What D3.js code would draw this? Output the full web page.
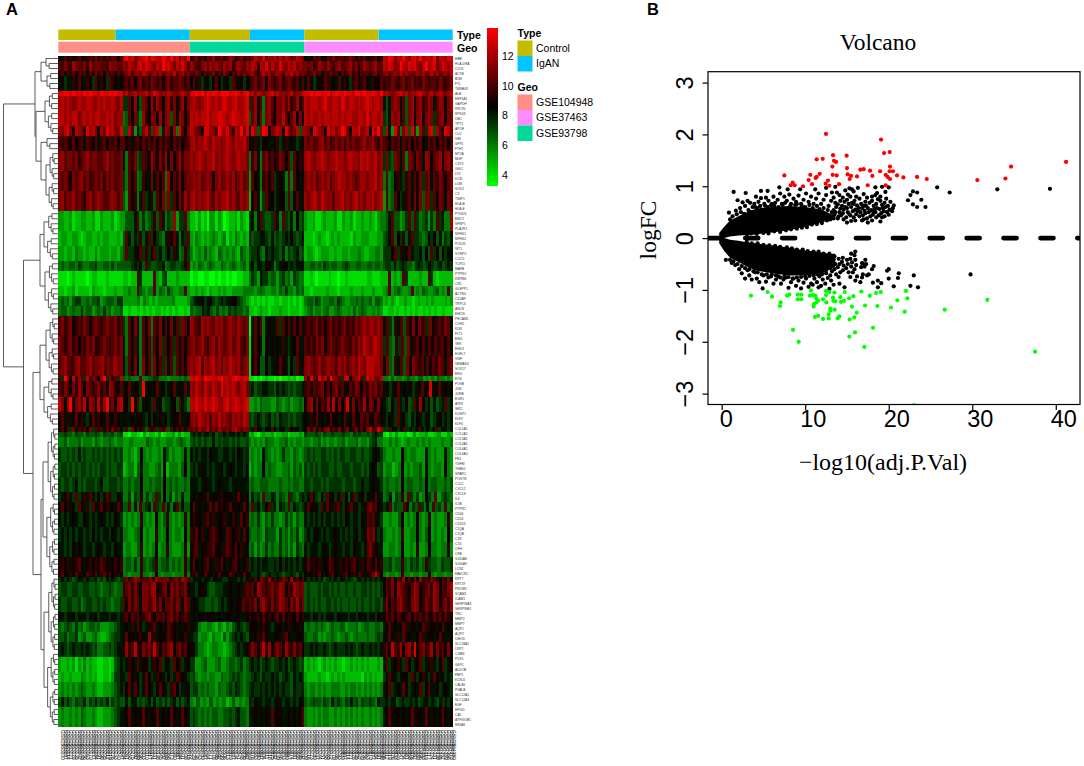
<!DOCTYPE html>
<html>
<head>
<meta charset="utf-8">
<script src="https://cdn.jsdelivr.net/npm/d3@7/dist/d3.min.js"></script>
<style>
  html, body { margin: 0; padding: 0; background: #fff; }
  svg { display: block; }
</style>
</head>
<body>
<div id="root"></div>
<script>
const width = 1084
const height = 766

// heatmap: hex digit per cell, 0 = brightest green, f = brightest red
// segments in a string follow sample groups, bandRows[i] = how many rows that string covers
const segmentCols = [23, 24, 21, 20, 28, 25]
const bandRows = [1,2,1,3,1,3,3,2,3,4,4,4, 4,3,3,2,3,2,2,2, 4,4,4,1,3,3,3, 1,1,2,3,3,3,2,2,3,3,3,3,1, 1,3,3,2,2,2,3,3,2,3,2,4]
const bandCells = [
  '87a7987a879a9b8a9a9aa8a dfdebcdefcfeddfecfdebdcf 8ab9a8bac9ab9acb8ab9a 9bdcbeaccdbdbdcabdcb 878a9a78a9b9aa9aba8a9a798a79 dcfebdcfdbeedfcdecfbddcee',
  'a9ba9cbaab9cabbaa9cbbaa cbdcbdecedcbdcfdecbdceca cba9bcacbcbacbc9bcbac bdc9dcebdcbecbdcdbcb bab9acbaca9bcaabcab9acbabcaa dcedbcfdcedecbdfcdebcedcd',
  '9a7a9a8a9a7a9b9a8a9a8a9 abcabcbdcabcbcabcbdabcab a9ba8a9ab8a9ba8a9baba bca9bdbcabcbacbdbcab a9ab9a7a9b9a7a9ab9a8a9a9ab9a bcabcbdbcbabcbcabdbcabcbd',
  '7867797a87986a7986a9878 9a9a8ab9a9ba9a8ab9aaba9a 8a7967868a86786a97868 7ab9ab8ba9ab9aba9a7a 7a86788a9787a79869a79a87988a 9a9ba9ab9ab9a9ba9aa9ba9ab',
  'eeffefeedfefeedfeefefee bdbcdbccdbcedbcbdcbbcdcb eefefdfefeefffeefedef cdbdcbcdecdbcbcdbbcd eefeffeefdefeefeedffefeefedf cdcbcdecdbccdecbcdbcdcbcd',
  'cdcdcbcdccddcbdcdccdcbd 66a8c75ba8c9ca8bc9b7ac8b cdcbcdedcdcdedcdeccde 6ac8a4bca8bbcac9ac8a dcdddcdeccddcedcddcdcdedcddc 757bcb8a5bc8bc9acb7acb8bc',
  'ddcdcddbcdcdcddccdcdbcc 45a8b64c98bb8c8bc5b7cb8a dcdcddecddeedcdeddcde 5ac7b4bc98bbda8ac8b8 dcdccdcddcddcdcddccddcecddcd 657cbc8a5bc7bc8bcb6abc8bb',
  'cbdeb8dcb9ecdb8cbecdbbe 55da375bda5cd49cb7c4ea8b dcba8eecbafdceb9dcfbe 7ec5bfe8bcdc8ecabd5c cb8edcb8ecdbcfeb8dcebcd8ecfb 5d73ea4bd5ea3ca6de5ca8edb',
  'a9a98a89a7a98a79a8a9a8a a8979a8a9a8a8a9a98a9a89a cdbccdcbdccbcdcbdccdb 87976887789679787678 babaabcab9abab9babaabcabca9b a98a9a7a9a8a9a87a9a8a9a8a',
  'bcabbab9abcabbaabcabaab 74a9b56a98ca8b9c7b8ac9bb cbcdcbccdbcbcdcbcdccb 49b74ab9a89ba8a5a898 cdcbccdcbccdccbcdccbdcdccdbc 6b65ba7a4ba8ba7cb8abc8bca',
  'baba8babcab9abab9babaab 64a8a45987b7a8a4c8a9b8ab bcbcabcb8bcabcbc9bcab 3a8749a8a67874a4a878 bcbcabcbcabcdccbcbabccbccdbc 4a4589769a7a8b6ab7a9ba8ab',
  'bcabbcaba9bcabcbaabcbab 53a8947a6795a8b5b6a8b9ca cdbcbcdbacbccdbcbacbc 28a736a8867885a58a78 cbcdcbdcbcaccdbcbcdbcbccdbcd 3a45a8679a7b8b5bb6a8ba7ba',
  '33223122332231132223123 35557a4645695a7465c366a4 221312033132012231321 6747a6556a74a6574856 32231123222311322312232232134 457a55346a5a6456364a6744c',
  '23322332123322323322232 5a7576957a68654798a7476a 324323234323413243232 75667765756567686567 22212322123232222132233322233 567a586957a66545868574657',
  '33233243323224233323324 5a6678a6968a675686974596 423435343254343432543 56675476766574656756 23321233322322332333432233443 6668a6978a7667585a6858677',
  '45445546544556445546455 55567675a65566745665567a 343543454335434543453 67577688746778676778 44554546545544565445544554554 56657567655467656765675676',
  '11101211110122111211111 22122a62222a325622232222 011001100101101001122 46537664553564536544 11210111121101121111111221112 22a2323a62222322a62122222',
  '22122312222132221222322 33433a54344a3543643344a3 223232132232322333344 44345433443546443545 22122222322212222322232223222 34a3454334a343543345343a3',
  '45453566445455634555466 33333424323233333422223 567786786567677886543 21212121122122121212 45546534455465433445454453554 23232122322123223232222323',
  '45534544645534546453445 11211212121221212121121 54557675464546565545 22123221222322122212 34534434533454334353454334343 11221211212121121212112111',
  'ab9ab89a9ba8aba9abaab9a 64a7b94a8b4a9b7a8b7a6ba8 cba9cbcbacbcabcbacbab 07a8a47877a6a8a7a8a7 9a9ab9a8ab9a9ab9a9babcbccbcb 7a6497a5a8b8b9a6b89a9ba7',
  'ba9ab9a8a9bab89aba9abab 74a7a74a8a5a8b6a8a6a7a8a bcabca9bcacbabcabca9b 17a87487878797678a77 a9a9bab8aba9abaa9bacbdcbcdcb 6a5496a5b79a8a7a8a9a8a7',
  'abca9bcaabcabbcabacbb 75a7b84b8a5b8a6b7a5a7a8b cbcdacbcdbcacbdcbcabc 18a85586778a87586a78 bcbabcabcbbacbcabcbdcbdddccb 7b5497a5b8ba9a7a8a9ba7ab',
  'a6fb7d9ca6d9ba8cf6b9a6d 545444a44556644434445454 ededcfeeddefddcefedee 11010121101011212011 c9eb7ecd9fcba6de7bcda6ecdbad 44353443454435534343544343',
  'a9ba8b9ca8ba9ab9a8cb98a 78a7886f7878a78678a787a7 cbdcbdcbdcbecdcdcbcdb 67566776657676565667 9a8a9ab8a8ab9a78a9ba8a9bab9a 78678a7878678a78e78a7878',
  'db7cf8bc9d8cb7d9cf8b8cd 786f7a57876a78566785a764 dcedcecdedcbdecdedcde 33435444335434534454 8bc7b8a9c8d8b8ae7b8a9c8ba8b8 76586a76856a7c86857567a67',
  '8a7978a89768a7987a78987 87787887686878786788a778 bcbdcbcacbdbcbacbcbdc 65676567565766565667 8798a7878a8878a78a88a9a88a98 76876a7865768767856786767',
  '7a8a6b7a9a8b6a9a7a8b9a7 6a5b8a7a5a8a6a9b5a7a8a7a abacabdabacbabacdbabb 67a87687a86876a87867 8b9b7a9bc8a9b8ab79b7a8bd9aec 66a7867a6767a76867a67767',
  '55655465546556546556456 11022103122130122313122 676767767566767767676 23102322312233122232 65556546556555655465655656766 10213112013122311231132',
  '44534445344435434454344 33433335434334434543 565656557565665656556 43434354433445343443 44344534344344534445344356744 33434323433434343334334',
  '65565657565565656565656 33432484343343753433474 767677687766776768767 34343754343464435434 56565566565656655665565567876 43343384344333743433743',
  '56656565665656566565566 23442574433453824443584 676787676778678767768 24344845443344535453 65656566655655666566656578756 34423483434453743443843',
  '65665675656665675566656 44545584454554845454454 777678776787776787777 45445554444544545544 66566656566666566656676678776 45445484554454845544545',
  '678a76a6797a76867a96687 44636594645a64846354744 787887a7887988878a878 47564a55764654a65467 67a76586a7867a6857a6786878a77 45736594a64634864a35654',
  '7a89786a8796a87a89787a8 55a474a5674a65a5747a5755 8a78787a8a8987a8787a8 5a67568a674765a57656 7a8786a7a879a7689a78678ab9a87 67a4655a8465a6474a564a45',
  '76767876687676787676876 34343494343843594343494 898879a89788978987a89 45464354644346453544 76767686776767687677687a9a776 33433583434843493433494',
  '67686767767686767768767 44334583433943484344384 98a89789a9887a98897a8 54454365553645354634 67678767677876767678678bab767 43343493344843583434384',
  '77676878767767876776877 34433593434834494333493 89a78899a8879a98a8978 45353464544645353654 76777678767877677687767ab9877 33443483343933484434493',
  '8989789a8789898a9878989 45546495456945564545495 8a8789a8798a8789a8789 67676776676867676767 8a8989788a98798989a8798a98a89 55645595465645965546556',
  '8a8798a878a98a79a8a8798 44344494434843444344494 98a78a8878a878a9878a8 76676567667656676576 87898a8789a8789a8798a8789bda8 43443494434434494344344',
  '67676567767667565767656 ab9acb9aab9cbabb9ab9cba 67776776877667776767 97a8ba9c8a79ba8c9a8a 76767675676767767656767676767 8a9b8a9c8a8b8c9a8ba98a9b8',
  '56655665566556545565455 9ab9b98bbacc89ab8bab9ab8 77688765566677877879a 9a8cba9ab9acb8a9cbab 56555656656565565565566565656 8a9b8cba98acb89ab9cb8a9bc',
  '65566556456655656554556 a8b9ba7bbaac9b8aab9ba7ba 78766556567678788a9 a9b8bca9b9acba8bac9b 56565655665656556556565565665 9b8a9bca98bcb89ba9cb8ab9c',
  '77677867776778677767767 9a8a9a89ab98a9a8ab9a89a9 787887888787788788778 98898a8989a8a8988a89 77687676777687776776877677687 8a9a8a989a8a9a8a98a9a8a98',
  '54565464534554533344567 78797a86789a7878a9878789 777433443243243567656 78878987678878978878 45445454345445534445345544554 78a7878a978878a978878a787',
  '55645563453345322345667 7a8878987c797887a9878897 766344324332535676765 87898a8778879a877887 54455343445434454345444544565 87a8797a88778a978878a8778',
  '67656766767656445565677 8c9ad98bab9da8a9bc8ab9a8 876443234433234567678 9ba8ad9c8aba8ca9b9a8 66767667656766676765676676767 9a8da9c8bc9e8ab9ac8b9a8b8',
  '32232313242322112212567 67987a7886798a6876a89678 663345333453345545645 67675676566767567656 23232123232322122323232322232 7a678976a8678a6789768a678',
  '23223222432323112213667 76a87867a8679876867a9876 564344344335445656545 56765766767567657676 32222322123232322222213232322 67a8767886a7689767a878676',
  '34343434543343223334567 68a7a867a8768a8769a86778 566454544354456576545 67667676767676657667 43443434334443343443434343434 78a6787a86787a68a77867876',
  '57575465574657565746565 575775656757565756757567 435343534342353434 76877677678767767687 54565546547565465756465565476 67677567667675677676576767',
  '34334343543343223334567 78a7878a8788a7878a878a87 565454545544556567554 77878787a7887787878a 43343434433434343434343343434 78a7887878a7887a87878a878'
]

// annotation rows, in sample columns
const typeBlocks = [['Control', 20.5], ['IgAN', 47], ['Control', 68.5], ['IgAN', 88], ['Control', 114.5], ['IgAN', 141]]
const geoBlocks = [['GSE104948', 47], ['GSE93798', 88], ['GSE37463', 141]]
const typeColors = { Control: '#c3bc00', IgAN: '#00c5ff' }
const geoColors = { GSE104948: '#ff8f85', GSE37463: '#ff8cff', GSE93798: '#00d99a' }
const colorTicks = [4, 6, 8, 10, 12]

// row labels are too small to read in the picture, these are best guesses
const rowLabels = ['HBB','HLA-DRA','CD74','ACTB','B2M','FTL','TMSB4X','ALB','EEF1A1','GAPDH','RPLP0','RPS18','UBC','TPT1','APOE','CLU','VIM','SPP1','FTH1','MT2A','MGP','CST3','IGKC','LYZ','DCN','LUM','SOD2','C3','TIMP1','HLA-B','HLA-E','PTGDS','ENO2','SFRP1','PLA2R1','NPHS1','NPHS2','PODXL','WT1','SYNPO','CLIC5','TCF21','MAFB','PTPRO','KIRREL','CR1','GLEPP1','ACTN4','CD2AP','TRPC6','ANLN','EMCN','PECAM1','CDH5','KDR','FLT1','ENG','TEK','EHD3','EGFL7','VWF','SEMA3G','SOX17','ERG','FOS','FOSB','JUN','JUNB','EGR1','ATF3','IER2','DUSP1','KLF2','KLF4','COL1A1','COL1A2','COL3A1','COL4A1','COL4A2','COL6A3','FN1','TGFBI','THBS1','SPARC','POSTN','CCL2','CXCL2','CXCL8','IL6','IL1B','PTPRC','CD44','CD14','CD163','C1QA','C1QB','C1R','C1S','CFH','CFB','S100A8','S100A9','LCN2','HAVCR1','KRT7','KRT19','PROM1','VCAM1','ICAM1','SERPINA3','SERPINE1','TNC','MMP2','MMP7','AQP1','AQP2','UMOD','SLC34A1','LRP2','CUBN','PCK1','G6PC','ALDOB','FBP1','KCNJ1','CALB1','PVALB','SLC12A1','SLC12A3','EGF','HPGD','CA2','ATP6V1B1','NR4A1']
const sampleIds = d3.range(141).map(d => 'GSM' + (2863100 + d * 7)) // column labels, equally unreadable

// volcano
const xTicks = [0, 10, 20, 30, 40]
const yTicks = [-3, -2, -1, 0, 1, 2, 3]
const yTickText = ['\u22123', '\u22122', '\u22121', '0', '1', '2', '3']
const redPoints = [[12.49,2.01],[19.08,1.9],[20.11,1.66],[19.44,1.64],[14.96,1.59],[13.33,1.6],[11.37,1.52],[12.09,1.53],[13.45,1.49],[13.69,1.47],[13.25,1.38],[20.15,1.38],[15,1.35],[16.6,1.32],[17,1.33],[17.76,1.3],[18.96,1.29],[20.11,1.29],[20.51,1.29],[41.23,1.47],[34.65,1.38],[7.5,1.21],[10.61,1.22],[11.73,1.24],[11.37,1.18],[11.25,1.16],[13.29,1.22],[13.77,1.21],[15.08,1.23],[15.48,1.2],[15.32,1.14],[16.2,1.19],[18.04,1.2],[19.64,1.22],[19.87,1.18],[20.15,1.14],[20.99,1.21],[21.75,1.17],[23.39,1.18],[24.55,1.14],[30.61,1.12],[33.97,1.15],[10.41,1.12],[12.73,1.11],[12.45,1.05],[10.81,1.04],[14.05,1.04],[12.89,1.01],[8.5,1.07],[8.26,1.02],[8.74,1.02],[9.74,1],[17.48,1.02],[19.64,1.02]]
const greenPoints = [[3.51,-1.11],[5.5,-1.04],[6.02,-1.13],[6.98,-1.31],[7.06,-1.24],[7.82,-1.11],[8.1,-1.09],[8.54,-1.77],[9.22,-2],[9.1,-1.09],[9.54,-1.09],[9.1,-1.18],[9.54,-1.18],[10.69,-1.01],[10.57,-1.11],[10.93,-1.1],[11.21,-1.11],[11.33,-1.16],[11.53,-1.21],[11.33,-1.24],[11.05,-1.27],[11.01,-1.32],[12.13,-1.18],[12.49,-1.02],[12.49,-1.1],[12.53,-1.24],[12.89,-1.04],[13.49,-1.05],[13.33,-1.15],[13.61,-1.22],[13.37,-1.21],[14.21,-1.14],[14.29,-1.23],[14.65,-1.21],[14.73,-1.04],[15.24,-1.16],[15.76,-1.12],[15.6,-1.32],[16.16,-1.44],[16.72,-1.03],[17.16,-1.3],[17.72,-1.11],[18.48,-1.06],[19.04,-1.04],[18.64,-1.31],[20.27,-1.34],[21.03,-1.2],[21.91,-1.42],[22.23,-1.16],[22.07,-1.02],[11.17,-1.52],[11.57,-1.5],[12.13,-1.56],[12.81,-1.47],[12.81,-1.55],[13.01,-1.36],[13.01,-1.4],[13.53,-1.38],[13.89,-1.55],[14.09,-1.51],[15.32,-1.57],[15.88,-1.53],[18.12,-1.73],[15.28,-1.9],[15.96,-1.82],[17.08,-2.1],[26.7,-1.38],[31.81,-1.19],[37.52,-2.19],[23.03,-3.22]]
const blackPoints = [
  [1.43,.89],[2.87,.87],[1.9,.73],[2.5,.69],[.87,.49],[1.7,.53],[3.4,.68],[4.1,.8],[4.7,.91],[5.5,.91],[6.9,.98],[7.9,.94],[9.4,.94],[11.2,.94],[12.5,.97],[13.6,.99],[15.3,.96],[16.3,.97],[18.4,.98],[19.2,.99],[20,.98],[17,.85],[19.6,.89],[18,.8],[19,.8],[18.6,.87],
  [22.9,.9],[23.4,.88],[22.6,.83],[22.3,.73],[23.9,.74],[22.9,.65],[23.4,.6],[24.4,.6],[25.8,.98],[27.3,.88],[33,.94],[39.3,.95],
  [2.2,.58],[2.8,.62],[3.1,.72],[3.7,.6],[3.9,.66],[4.4,.7],[4.7,.77],[4.6,.62],[5.1,.66],[5.3,.78],[5.6,.72],[5.9,.63],[6.2,.8],[6.4,.68],[6.7,.74],[7,.86],[7.2,.66],[7.5,.8],[7.8,.72],[8.1,.84],[8.3,.66],[8.6,.76],[8.9,.7],[9.2,.82],[9.5,.66],[9.8,.74],[10.1,.86],[10.4,.7],[10.7,.8],[11,.66],[11.3,.76],[11.6,.86],[11.9,.66],[12.2,.74],[12.5,.83],[12.8,.62],[13.1,.72],[13.2,.88],
  [1,.36],[1.3,.42],[1.8,.46],[2.3,.5],[2.7,.47],[3.2,.54],[3.5,.5],[4,.6],[4.3,.58],[4.8,.55],[5.2,.62],[5.5,.6],[6,.66],[6.3,.62],[6.8,.6],[7.3,.64],[7.6,.68],[8.2,.62],[8.8,.64],[9,.66],[9.6,.62],[10,.6],[10.5,.64],[10.9,.58],[11.4,.62],[11.7,.56],[12.2,.58],[12.7,.54],[13.2,.5],[13.3,.42],
  [3,.07],[3.5,.09],[4.2,.08],[5,.1],[5.6,.09],[6.3,.13],[7,.12],[7.7,.15],[8.3,.17],[9,.18],[9.6,.2],[10.2,.21],[10.8,.26],[11.4,.27],[12,.29],[12.6,.34],[13,.36],[13.4,.38],
  [13.5,.45],[13.4,.54],[13.7,.6],[13.6,.68],[13.4,.78],[13.8,.88],[14,.42],[14.1,.5],[14.2,.57],[13.9,.65],[14.2,.72],[14.1,.83],[14.5,.48],[14.6,.55],[14.4,.62],[14.7,.7],[14.5,.78],[14.8,.92],[15,.3],[14.9,.4],[15.1,.5],[15,.58],[15.2,.66],[15,.74],[15.1,.84],[15.6,.94],[15.5,.33],[15.4,.44],[15.7,.52],[15.5,.6],[15.6,.68],[15.4,.8],[15.8,.9],[16,.34],[16.1,.46],[16,.55],[16.2,.63],[15.9,.72],[16.1,.8],[16.5,.42],[16.6,.5],[16.4,.58],[16.7,.66],[16.5,.76],[17,.36],[16.9,.44],[17.1,.53],[17,.62],[17.2,.7],[17.5,.3],[17.4,.38],[17.6,.5],[17.5,.58],[17.7,.68],[17.4,.78],[18,.34],[18.1,.45],[17.9,.54],[18.2,.62],[18,.72],[18.5,.4],[18.4,.5],[18.6,.58],[18.5,.66],[18.7,.75],[18.4,.83],[19,.32],[19.1,.48],[18.9,.56],[19.2,.64],[19,.72],[19.5,.42],[19.4,.52],[19.6,.6],[19.5,.68],[19.7,.76],[20,.45],[20.1,.55],[19.9,.62],[20.2,.7],[20.5,.58],[20.6,.63],[20.4,.52],
  [13.9,.38],[14.3,.44],[14.6,.36],[15.3,.46],[15.8,.4],[16.3,.52],[16.8,.34],[17.2,.48],[17.8,.42],[18.3,.56],[18.8,.44],[19.3,.58],[13.6,.5],[14.8,.6],[15.8,.66],[16.8,.58],[17.3,.62],[18.2,.5],[19.2,.4],[19.8,.5],
  [.5,-.42],[2.8,-.78],[4.9,-.97],[1.2,-.48],[1.6,-.52],[2.1,-.6],[2.4,-.68],[3.1,-.62],[3.3,-.72],[3.6,-.8],[4,-.66],[4.2,-.78],[4.5,-.85],[5,-.72],[5.3,-.84],[5.6,-.76],[6,-.7],[6.2,-.88],[6.5,-.8],[6.8,-.74],[7.1,-.88],[7.4,-.8],[7.7,-.76],[8,-.96],[8.3,-.85],[8.6,-.78],[8.9,-.92],[9.2,-.82],[9.5,-.97],[9.8,-.86],[10.1,-.78],[10.4,-.94],[10.7,-.88],
  [1,-.42],[1.4,-.45],[1.9,-.5],[2.4,-.54],[2.8,-.58],[3.3,-.6],[3.8,-.64],[4.3,-.66],[4.8,-.7],[5.4,-.7],[5.9,-.74],[6.5,-.72],[7,-.76],[7.5,-.74],[8,-.75],[8.5,-.78],[9,-.76],[9.5,-.75],[10,-.74],[10.5,-.73],[11,-.72],[11.5,-.7],[12,-.68],[12.5,-.62],[13,-.58],
  [3,-.07],[3.6,-.1],[4.3,-.1],[5,-.13],[5.7,-.14],[6.4,-.15],[7,-.17],[7.8,-.18],[8.4,-.2],[9,-.22],[9.7,-.22],[10.3,-.25],[11,-.26],[11.6,-.26],[12.2,-.3],[12.9,-.3],[13.4,-.34],
  [11,-.3],[11.1,-.4],[10.9,-.5],[11.2,-.6],[11,-.7],[11.1,-.78],[10.9,-.9],[11.5,-.33],[11.4,-.42],[11.6,-.55],[11.5,-.66],[11.7,-.74],[11.4,-.85],[11.6,-.95],[12,-.35],[12.1,-.45],[11.9,-.52],[12.2,-.62],[12,-.7],[12.1,-.8],[11.9,-.92],[12.5,-.38],[12.4,-.48],[12.6,-.58],[12.5,-.68],[12.7,-.77],[12.4,-.88],[13,-.36],[13.1,-.44],[12.9,-.54],[13.2,-.64],[13,-.72],[13.1,-.82],[12.9,-.98],[13.5,-.35],[13.4,-.42],[13.6,-.5],[13.5,-.6],[13.7,-.7],[13.4,-.9],[14,-.4],[14.1,-.5],[13.9,-.56],[14.2,-.66],[14,-.75],[14.1,-.88],[14.5,-.38],[14.4,-.46],[14.6,-.53],[14.5,-.62],[14.7,-.95],[15,-.42],[15.1,-.5],[14.9,-.58],[15.2,-.66],[15.5,-.3],[15.4,-.4],[15.6,-.47],[15.5,-.55],[15.7,-.66],[15.4,-.75],[16,-.26],[15.9,-.33],[16,-.42],[16.1,-.52],[15.9,-.6],[16.2,-.74],[16,-.82],[16.8,-.48],[16.7,-.56],[16.9,-.7],[16.8,-.76],[16.6,-.85],[17.2,-.42],[16.9,-.49],[17.3,-.5],[17.1,-.55],[17.4,-.72],[17.6,-.7],[18.2,-.54],[18,-.6],[18.1,-.86],[18.7,-.82],[18.7,-.95],[19.1,-.87],[19.8,-.63],[20,-.6],[20,-.78],[20.6,-.93],[21.2,-.68],[21.1,-.77],[22.6,-.92],[23,-.72],[23.5,-.95],[29.8,-.7]
]
// dense part of the cloud, read as a band per side
const coreX = [-.3, .3, 1, 2, 3, 4, 6, 8, 10, 12, 13.6]
const upperTop = [.1, .22, .34, .42, .5, .56, .6, .62, .6, .55, .42]
const upperBottom = [0, 0, .03, .05, .06, .07, .11, .15, .22, .3, .4]
const lowerTop = [0, 0, -.03, -.05, -.08, -.1, -.14, -.18, -.24, -.28, -.32]
const lowerBottom = [-.1, -.25, -.38, -.46, -.55, -.62, -.68, -.72, -.72, -.68, -.55]

const svg = d3.select('#root').append('svg')
  .attr('width', width)
  .attr('height', height)
  .style('font-family', "'Liberation Sans', Arial, sans-serif")

// panel A
const rowY = d3.scaleBand(d3.range(rowLabels.length), [56, 727])
const colX = d3.scaleLinear([0, 141], [58.3, 452.7])
const heatKeys = '0123456789abcdef'
const keyValue = d3.scaleLinear([0, 15], [3.25, 13.9])
const heatColor = d3.scaleLinear([3.25, 8.57, 13.9], ['#00ff00', '#000000', '#ff0000'])

const segmentStarts = d3.cumsum([0, ...segmentCols])
const bandStarts = d3.cumsum([0, ...bandRows])
const heat = svg.append('g').attr('shape-rendering', 'crispEdges')
bandCells.forEach((line, b) => {
  line.split(' ').forEach((cells, s) => {
    const x = d3.scaleBand(d3.range(cells.length), [colX(segmentStarts[s]), colX(segmentStarts[s + 1])])
    heat.append('g').selectAll('rect').data(Array.from(cells)).join('rect')
      .attr('x', (d, i) => x(i))
      .attr('y', rowY(bandStarts[b]))
      .attr('width', x.bandwidth() + .3)
      .attr('height', rowY.bandwidth() * bandRows[b] + .3)
      .attr('fill', d => heatColor(keyValue(heatKeys.indexOf(d))))
  })
})

function annotation (blocks, colors, y0, y1) {
  let from = 0
  blocks.forEach(([name, to]) => {
    svg.append('rect')
      .attr('x', colX(from)).attr('y', y0)
      .attr('width', colX(to) - colX(from)).attr('height', y1 - y0)
      .attr('fill', colors[name])
    from = to
  })
}
annotation(typeBlocks, typeColors, 29.5, 40)
annotation(geoBlocks, geoColors, 41.7, 52.7)
svg.append('text').attr('x', 457).attr('y', 39).attr('font-size', 10.5).attr('font-weight', 'bold').text('Type')
svg.append('text').attr('x', 457).attr('y', 51.5).attr('font-size', 10.5).attr('font-weight', 'bold').text('Geo')

// row + sample labels
svg.append('g').selectAll('text').data(rowLabels).join('text')
  .attr('x', 455)
  .attr('y', (d, i) => rowY(i) + 3.6)
  .attr('font-size', 3.3)
  .attr('fill', '#333')
  .text(d => d)
svg.append('g').selectAll('text').data(sampleIds).join('text')
  .attr('transform', (d, i) => `translate(${colX(i + .9)},730) rotate(90)`)
  .attr('font-size', 4.8)
  .attr('fill', '#000')
  .text(d => d)

// dendrogram: [height, a, b] is a join, [height, n] a group of n neighbouring rows
const rowTree = [54.5,
  [23,
    [17, [12, 3], [11, 4]],
    [22, [13, 9], [17, [11, 3], [12, 12]]]],
  [34.5,
    [18, [14, 10], [13, 11]],
    [25,
      [18, [12, 12], [14, 10]],
      [17, [15, 30], [14, 30]]]]
]
const dendroX = d3.scaleLinear([0, 54.5], [58, 3.5])
const dendro = d3.path()
let nextRow = 0
function join (h, a, b) {
  const x = dendroX(h)
  dendro.moveTo(dendroX(a.h), a.y)
  dendro.lineTo(x, a.y)
  dendro.lineTo(x, b.y)
  dendro.lineTo(dendroX(b.h), b.y)
  return { h, y: (a.y + b.y) / 2 }
}
function rowGroup (n, h) {
  if (n === 1) {
    const y = rowY(nextRow) + rowY.bandwidth() / 2
    nextRow += 1
    return { h: 0, y }
  }
  const left = Math.floor(n / 2)
  const a = rowGroup(left, h * .66)
  const b = rowGroup(n - left, h * .74)
  return join(h, a, b)
}
function walk (node) {
  if (node.length === 2) return rowGroup(node[1], node[0])
  const a = walk(node[1])
  const b = walk(node[2])
  return join(node[0], a, b)
}
walk(rowTree)
svg.append('path').attr('d', dendro.toString()).attr('fill', 'none').attr('stroke', '#333').attr('stroke-width', .8)

// colour bar
const barY = d3.scaleLinear([3.25, 13.9], [186, 28])
const barValues = d3.range(3.25, 13.9, .05)
svg.append('g').attr('shape-rendering', 'crispEdges').selectAll('rect').data(barValues).join('rect')
  .attr('x', 487.3)
  .attr('y', d => barY(d + .05))
  .attr('width', 10.7)
  .attr('height', barY(0) - barY(.05) + .4)
  .attr('fill', d => heatColor(d))
svg.append('g').selectAll('text').data(colorTicks).join('text')
  .attr('x', 502)
  .attr('y', d => barY(d) + 3.8)
  .attr('font-size', 10.5)
  .text(d => d)

// legends
function legend (title, names, colors, y) {
  svg.append('text').attr('x', 517.5).attr('y', y).attr('font-size', 10.5).attr('font-weight', 'bold').text(title)
  names.forEach((name, i) => {
    const top = y + 4 + i * 15.5
    svg.append('rect').attr('x', 517.5).attr('y', top).attr('width', 15).attr('height', 15.5).attr('fill', colors[name])
    svg.append('text').attr('x', 536).attr('y', top + 11).attr('font-size', 10.5).text(name)
  })
}
legend('Type', ['Control', 'IgAN'], typeColors, 36.5)
legend('Geo', ['GSE104948', 'GSE37463', 'GSE93798'], geoColors, 90.5)

svg.append('text').attr('x', 6).attr('y', 15).attr('font-size', 16.5).attr('font-weight', 'bold').text('A')
svg.append('text').attr('x', 647).attr('y', 15).attr('font-size', 16.5).attr('font-weight', 'bold').text('B')

// panel B
const volX = d3.scaleLinear([-1.64, 42.9], [708, 1080])
const volY = d3.scaleLinear([-3.21, 3.21], [404.5, 71.7])

svg.append('clipPath').attr('id', 'plot-clip').append('rect')
  .attr('x', 708).attr('y', 71.7).attr('width', 372).attr('height', 332.8)
const plot = svg.append('g').attr('clip-path', 'url(#plot-clip)')

const coreTop = d3.area().x((d, i) => volX(coreX[i])).y0((d, i) => volY(upperBottom[i])).y1((d, i) => volY(upperTop[i]))
const coreLow = d3.area().x((d, i) => volX(coreX[i])).y0((d, i) => volY(lowerTop[i])).y1((d, i) => volY(lowerBottom[i]))
plot.append('path').attr('d', coreTop(coreX)).attr('fill', '#000')
plot.append('path').attr('d', coreLow(coreX)).attr('fill', '#000')

function dots (points, color) {
  plot.append('g').selectAll('circle').data(points).join('circle')
    .attr('cx', d => volX(d[0]))
    .attr('cy', d => volY(d[1]))
    .attr('r', 2.1)
    .attr('fill', color)
}
dots(blackPoints, '#000')
dots(redPoints, '#ff0000')
dots(greenPoints, '#00ff00')

plot.append('line')
  .attr('x1', 708.35).attr('x2', 1080)
  .attr('y1', volY(0)).attr('y2', volY(0))
  .attr('stroke', '#000')
  .attr('stroke-width', 4.7)
  .attr('stroke-linecap', 'round')
  .attr('stroke-dasharray', '13 23.9')

svg.append('rect')
  .attr('x', 708).attr('y', 71.7).attr('width', 372).attr('height', 332.8)
  .attr('fill', 'none').attr('stroke', '#000').attr('stroke-width', 1.2)

const xAxis = svg.append('g').attr('transform', 'translate(0,404.5)')
  .call(d3.axisBottom(volX).tickValues(xTicks).tickSize(5.5).tickSizeOuter(0))
xAxis.select('.domain').remove()
xAxis.selectAll('line').attr('stroke-width', 1.2)
xAxis.selectAll('text')
  .attr('font-family', "'Liberation Sans', Arial, sans-serif")
  .attr('font-size', 23.5)
  .attr('y', 6)
  .attr('dy', 0)
  .attr('dx', d => d === 0 ? 4 : 7.5)
  .attr('dominant-baseline', 'hanging')

const yAxis = svg.append('g').attr('transform', 'translate(708,0)')
  .call(d3.axisLeft(volY).tickValues(yTicks).tickSize(5.5).tickSizeOuter(0).tickFormat((d, i) => yTickText[i]))
yAxis.select('.domain').remove()
yAxis.selectAll('line').attr('stroke-width', 1.2)
yAxis.selectAll('text')
  .attr('font-family', "'Liberation Sans', Arial, sans-serif")
  .attr('font-size', 23.5)
  .attr('text-anchor', 'middle')
  .attr('dy', 0)
  .attr('x', 0)
  .attr('y', 0)
  .attr('transform', 'translate(-15,0) rotate(-90)')

const serif = "'Liberation Serif', 'Times New Roman', serif"
svg.append('text').attr('x', 878).attr('y', 50).attr('text-anchor', 'middle')
  .attr('font-family', serif).attr('font-size', 23.5).text('Volcano')
svg.append('text').attr('x', 883).attr('y', 470).attr('text-anchor', 'middle')
  .attr('font-family', serif).attr('font-size', 24).text('\u2212log10(adj.P.Val)')
svg.append('text').attr('transform', 'translate(656,230) rotate(-90)').attr('text-anchor', 'middle')
  .attr('font-family', serif).attr('font-size', 23.5).text('logFC')
</script>
</body>
</html>
